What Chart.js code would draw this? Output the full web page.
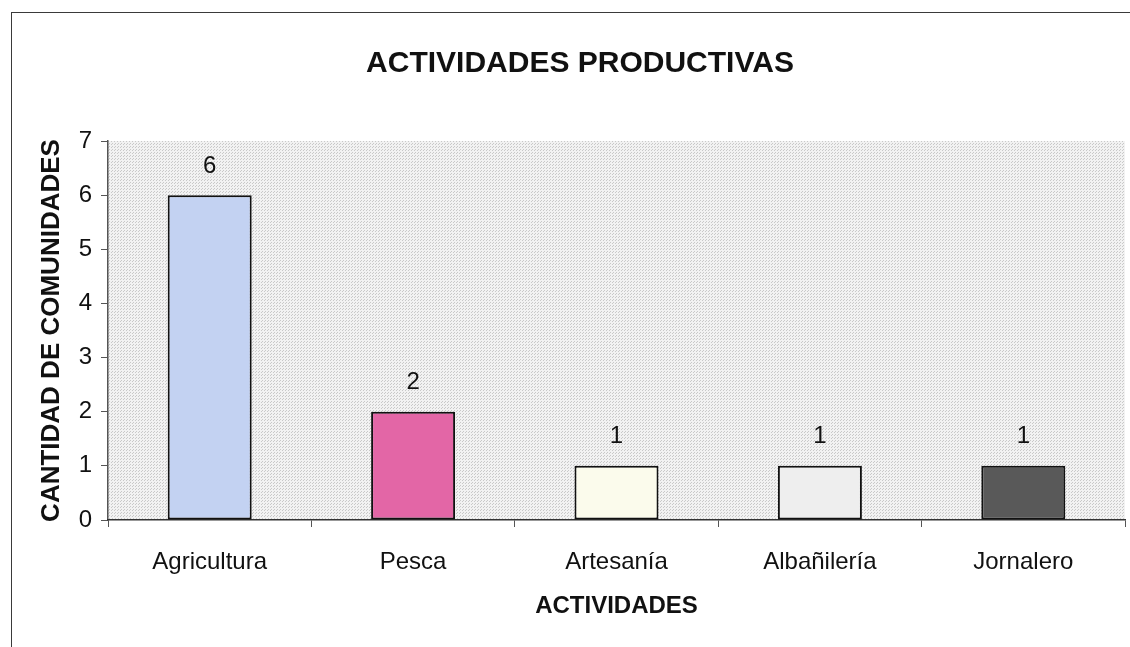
<!DOCTYPE html>
<html>
<head>
<meta charset="utf-8">
<script src="https://cdn.jsdelivr.net/npm/chart.js@4.4.0/dist/chart.umd.min.js"></script>
<style>
    html, body { margin: 0; padding: 0; background: #fff; overflow: hidden; }
    #frame {
        position: absolute; left: 11px; top: 12px;
        width: 1200px; height: 700px;
        border: 1.5px solid #3a3a3a;
    }
    #wrap { position: absolute; left: 0; top: 0; width: 1130px; height: 647px; }
</style>
</head>
<body>
<div id="frame"></div>
<div id="wrap"><canvas id="productivasChart" width="1130" height="647"></canvas></div>
<script>
// Datos del gráfico
const titulo = 'ACTIVIDADES PRODUCTIVAS';
const categorias = ['Agricultura', 'Pesca', 'Artesanía', 'Albañilería', 'Jornalero'];
const comunidades = [6, 2, 1, 1, 1];
const coloresBarras = ['#c3d2f2', '#e366a6', '#fbfbec', '#eeeeee', '#595959'];
const ticksY = [0, 1, 2, 3, 4, 5, 6, 7];

const fuente = "'Liberation Sans', Arial, sans-serif";

// Fondo punteado del área del gráfico
function makePattern() {
    const c = document.createElement('canvas');
    c.width = 3; c.height = 3;
    const ctx = c.getContext('2d');
    ctx.fillStyle = '#f2f2f2';
    ctx.fillRect(0, 0, 3, 3);
    ctx.fillStyle = '#c9c9c9';
    ctx.fillRect(0, 0, 1, 1);
    ctx.fillRect(1, 2, 1, 1);
    return ctx.createPattern(c, 'repeat');
}

const plotBackground = {
    id: 'plotBackground',
    beforeDraw(chart) {
        const { ctx, chartArea: a } = chart;
        ctx.save();
        ctx.fillStyle = makePattern();
        ctx.fillRect(a.left, a.top, a.right - a.left, a.bottom - a.top);
        ctx.restore();
    }
};

// Título principal (centrado como en el original, algo a la derecha)
const mainTitle = {
    id: 'mainTitle',
    afterDraw(chart) {
        const { ctx } = chart;
        ctx.save();
        ctx.font = 'bold 30px ' + fuente;
        ctx.fillStyle = '#111';
        ctx.textAlign = 'center';
        ctx.textBaseline = 'middle';
        ctx.fillText(titulo, 580, 64);
        ctx.restore();
    }
};

// Valores encima de cada barra
const valueLabels = {
    id: 'valueLabels',
    afterDatasetsDraw(chart) {
        const { ctx } = chart;
        const meta = chart.getDatasetMeta(0);
        ctx.save();
        ctx.font = '24px ' + fuente;
        ctx.fillStyle = '#111';
        ctx.textAlign = 'center';
        ctx.textBaseline = 'middle';
        meta.data.forEach(function(bar, i) {
            ctx.fillText(String(comunidades[i]), bar.x, bar.y - 29);
        });
        ctx.restore();
    }
};

new Chart(document.getElementById('productivasChart'), {
    type: 'bar',
    data: {
        labels: categorias,
        datasets: [{
            data: comunidades,
            backgroundColor: coloresBarras,
            borderColor: '#111',
            borderWidth: 2,
            borderSkipped: false,
            categoryPercentage: 1,
            barPercentage: 0.413
        }]
    },
    options: {
        responsive: false,
        animation: false,
        devicePixelRatio: 1,
        layout: { padding: { left: 0, right: 5, top: 141, bottom: 0 } },
        plugins: {
            legend: { display: false },
            tooltip: { enabled: false },
            title: { display: false }
        },
        scales: {
            y: {
                min: 0,
                max: 7,
                afterFit(scale) { scale.width = 108; },
                afterBuildTicks(scale) { scale.ticks = ticksY.map(v => ({ value: v })); },
                border: { display: true, color: '#555', width: 1.5 },
                grid: { drawOnChartArea: false, drawTicks: true, tickLength: 7, color: '#555' },
                ticks: {
                    color: '#111',
                    padding: 9,
                    font: { family: fuente, size: 24 }
                },
                title: {
                    display: true,
                    text: 'CANTIDAD DE COMUNIDADES',
                    color: '#111',
                    font: { family: fuente, size: 26, weight: 'bold' },
                    padding: { top: 36, bottom: 0 }
                }
            },
            x: {
                afterFit(scale) { scale.height = 127; },
                border: { display: true, color: '#333', width: 1.5 },
                grid: { drawOnChartArea: false, drawTicks: true, tickLength: 7, color: '#555', offset: true },
                ticks: {
                    color: '#111',
                    padding: 21,
                    font: { family: fuente, size: 24 }
                },
                title: {
                    display: true,
                    text: 'ACTIVIDADES',
                    color: '#111',
                    font: { family: fuente, size: 24, weight: 'bold' },
                    padding: { top: 0, bottom: 26 }
                }
            }
        }
    },
    plugins: [plotBackground, valueLabels, mainTitle]
});
</script>
</body>
</html>
